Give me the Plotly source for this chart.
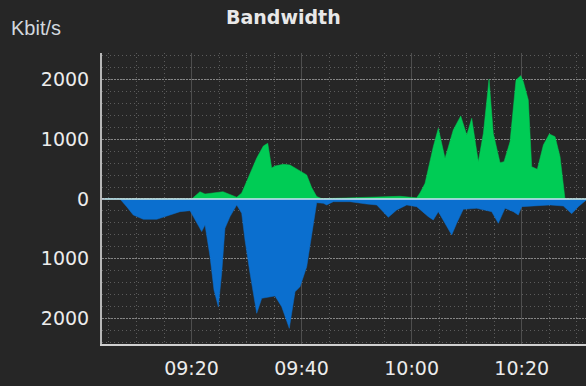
import plotly.graph_objects as go

DAY = "2024-01-01 "

# Incoming traffic (green, plotted upward), Kbit/s
in_times = ["09:04:17", "09:19:44", "09:20:02", "09:21:32", "09:22:27", "09:25:43", "09:27:00",
            "09:28:13", "09:29:07", "09:30:38", "09:31:51", "09:33:03", "09:33:51", "09:34:34",
            "09:35:10", "09:36:41", "09:37:54", "09:39:43", "09:40:56", "09:41:50", "09:42:45",
            "09:43:43", "09:50:37", "09:52:48", "09:57:53", "10:00:55", "10:01:31", "10:02:26",
            "10:03:56", "10:04:51", "10:06:04", "10:07:34", "10:08:55", "10:10:01", "10:10:55",
            "10:12:07", "10:13:02", "10:14:04", "10:14:50", "10:16:04", "10:16:47", "10:17:53",
            "10:18:58", "10:19:49", "10:20:18", "10:21:12", "10:21:49", "10:22:50", "10:23:56",
            "10:25:01", "10:26:04", "10:26:58", "10:27:52", "10:31:41"]
in_values = [0, 0, 0, 122, 83, 122, 80,
             30, 100, 435, 686, 887, 932, 519,
             552, 580, 569, 470, 402, 190, 40,
             5, 25, 20, 45, 20, 100, 262,
             875, 1183, 680, 1155, 1390, 1071, 1350,
             625, 1100, 2003, 1100, 608, 625, 960,
             1990, 2064, 1963, 1657, 541, 497, 904,
             1088, 1043, 708, 0, 0]

# Outgoing traffic (blue, plotted downward), Kbit/s
out_times = ["09:04:17", "09:07:00", "09:08:13", "09:09:25", "09:11:14", "09:13:41", "09:16:05",
             "09:17:55", "09:19:44", "09:20:38", "09:21:51", "09:22:27", "09:23:22", "09:24:05",
             "09:24:52", "09:25:29", "09:26:05", "09:27:00", "09:28:13", "09:29:07", "09:29:43",
             "09:30:38", "09:31:51", "09:32:46", "09:35:10", "09:36:23", "09:37:46", "09:38:49",
             "09:39:43", "09:40:56", "09:41:50", "09:42:45", "09:43:57", "09:44:34", "09:45:46",
             "09:48:48", "09:51:50", "09:53:39", "09:55:46", "09:57:17", "09:59:07", "10:00:55",
             "10:03:02", "10:03:56", "10:04:51", "10:05:46", "10:07:17", "10:08:11", "10:09:23",
             "10:11:49", "10:14:33", "10:15:45", "10:16:58", "10:18:29", "10:19:23", "10:20:00",
             "10:22:07", "10:25:09", "10:27:34", "10:29:05", "10:30:17", "10:31:41"]
out_values = [0, 0, 128, 268, 340, 340, 268,
              212, 195, 352, 546, 435, 965, 1523,
              1802, 1245, 490, 295, 100, 240, 686,
              1245, 1913, 1662, 1623, 1802, 2165, 1552,
              1468, 1133, 631, 62, 72, 100, 45,
              45, 84, 100, 306, 184, 100, 128,
              296, 351, 212, 351, 602, 407, 173,
              156, 212, 407, 156, 212, 268, 128,
              117, 100, 117, 246, 128, 20]

y_tickvals = [-2000, -1000, 0, 1000, 2000]
y_ticktext = ["2000", "1000", "0", "1000", "2000"]

BG = "#262626"
GREEN = "#00cc55"
BLUE = "#0b6fcf"

fig = go.Figure()
fig.add_trace(go.Scatter(
    x=[DAY + t for t in out_times], y=[-v for v in out_values],
    mode="lines", fill="tozeroy", fillcolor=BLUE,
    line=dict(color=BLUE, width=0.5), hoverinfo="skip", showlegend=False))
fig.add_trace(go.Scatter(
    x=[DAY + t for t in in_times], y=in_values,
    mode="lines", fill="tozeroy", fillcolor=GREEN,
    line=dict(color=GREEN, width=0.5), hoverinfo="skip", showlegend=False))

tick_font = dict(family="DejaVu Sans", size=19, color="#ececec")

fig.update_layout(
    width=586, height=386,
    margin=dict(l=102, r=0, t=53, b=42),
    paper_bgcolor=BG, plot_bgcolor=BG,
    showlegend=False,
    xaxis=dict(
        type="date",
        range=[DAY + "09:03:44", DAY + "10:31:41"],
        tick0=DAY + "09:00:00", dtick=20 * 60 * 1000,
        tickformat="%H:%M",
        tickfont=tick_font,
        ticks="outside", ticklen=6, tickcolor=BG,
        showgrid=True, gridcolor="#4e4e4e", gridwidth=1,
        minor=dict(dtick=5 * 60 * 1000, tick0=DAY + "09:00:00", showgrid=True,
                   gridcolor="#5c5c5c", griddash="1px,3px", gridwidth=1),
        showline=True, linecolor="#d0d0d0", linewidth=2,
        zeroline=False, fixedrange=True,
    ),
    yaxis=dict(
        range=[-2427, 2443],
        tickmode="array", tickvals=y_tickvals, ticktext=y_ticktext,
        tickfont=tick_font,
        ticks="outside", ticklen=7, tickcolor=BG,
        showgrid=True, gridcolor="#858585", griddash="2px,1px", gridwidth=1,
        minor=dict(tickmode="linear", tick0=0, dtick=200, showgrid=True,
                   gridcolor="#5c5c5c", griddash="1px,3px", gridwidth=1),
        showline=True, linecolor="#b8b8b8", linewidth=2,
        zeroline=False, fixedrange=True,
    ),
    shapes=[
        dict(type="line", xref="paper", yref="y", x0=0, x1=1, y0=0, y1=0,
             line=dict(color="#d0e4f0", width=1.5), layer="above"),
    ],
    annotations=[
        dict(text="Bandwidth", xref="paper", yref="paper", x=0.376, y=1.125,
             xanchor="center", yanchor="middle", showarrow=False,
             font=dict(family="DejaVu Sans", size=19, color="#e8e8e8", weight="bold")),
        dict(text="Kbit/s", xref="paper", yref="paper", x=-0.192, y=1.086,
             xanchor="left", yanchor="middle", showarrow=False,
             font=dict(family="Liberation Sans", size=20, color="#d2d8de")),
    ],
)

fig.write_html("out.html")
